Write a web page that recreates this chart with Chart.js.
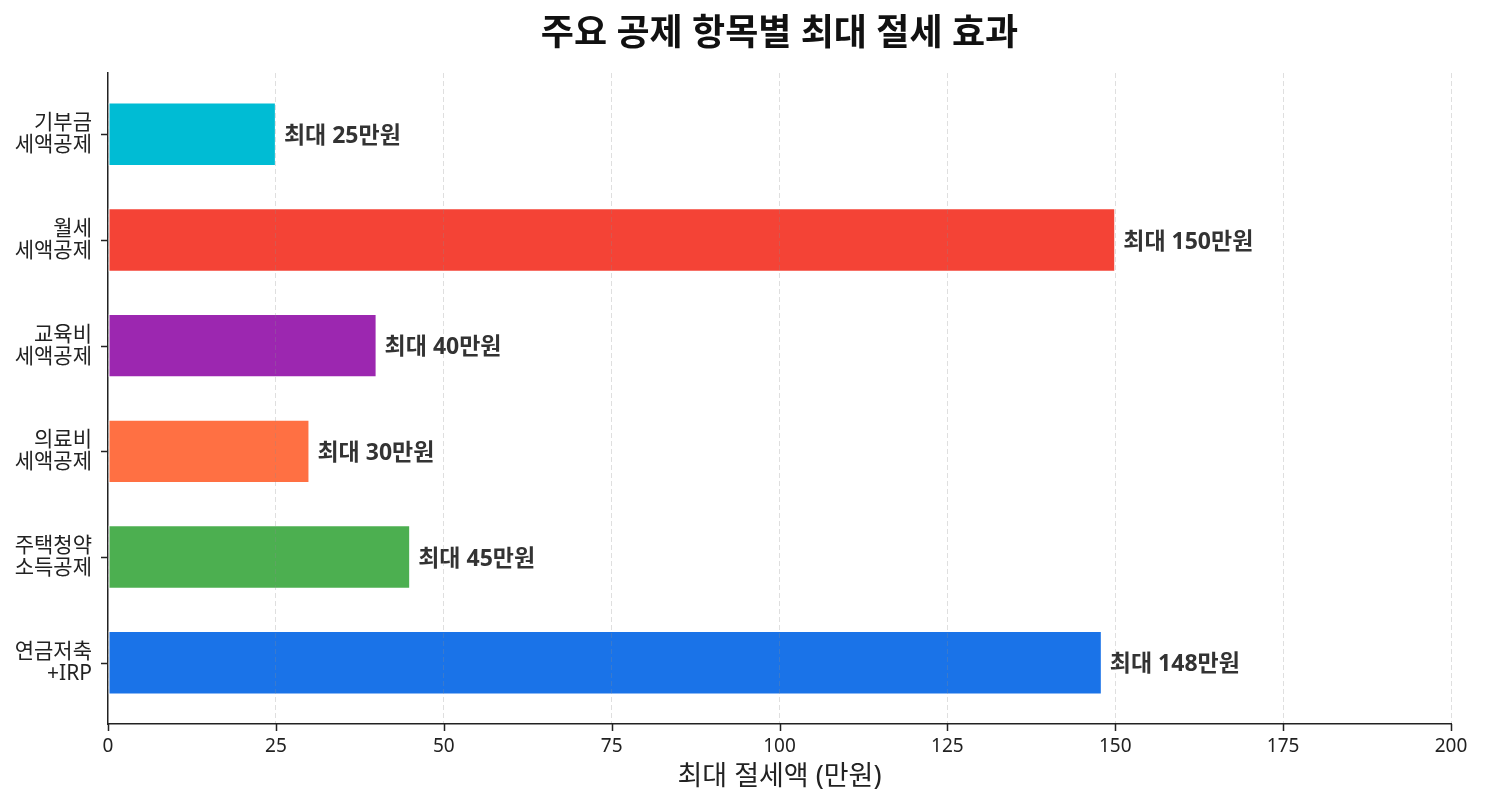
<!DOCTYPE html>
<html>
<head>
<meta charset="utf-8">
<script src="https://cdn.jsdelivr.net/npm/chart.js@4.4.1/dist/chart.umd.min.js"></script>
<style>
  html, body { margin: 0; padding: 0; background: #fff; }
  #wrap { width: 1485px; height: 808px; }
</style>
</head>
<body>
<div id="wrap"><canvas id="myCanvas"></canvas></div>
<script>
// data, listed top to bottom as in the picture
const categories = [
    ['기부금', '세액공제'],
    ['월세', '세액공제'],
    ['교육비', '세액공제'],
    ['의료비', '세액공제'],
    ['주택청약', '소득공제'],
    ['연금저축', '+IRP']
];
const maxSaving = [25, 150, 40, 30, 45, 148];
const barColors = ['#00BCD4', '#F44336', '#9C27B0', '#FF7043', '#4CAF50', '#1A73E8'];
const xTicks = [0, 25, 50, 75, 100, 125, 150, 175, 200];

const FONT = "'Noto Sans', 'Noto Sans CJK KR', sans-serif";
const n = categories.length;
const TICK = 7;

// bottom bar gets y = 0, like matplotlib barh
let points = maxSaving.map((v, i) => ({ x: v, y: n - 1 - i }));

// title centred over the plot area, value labels at bar ends, outside tick marks
const extras = {
    id: 'extras',
    afterDatasetsDraw(chart) {
        let ctx = chart.ctx;
        let area = chart.chartArea;
        ctx.save();
        ctx.fillStyle = '#111';
        ctx.font = 'bold 36px ' + FONT;
        ctx.textAlign = 'center';
        ctx.textBaseline = 'middle';
        ctx.fillText('주요 공제 항목별 최대 절세 효과', (area.left + area.right) / 2, 35);

        ctx.fillStyle = '#333';
        ctx.font = 'bold 23px ' + FONT;
        ctx.textAlign = 'left';
        chart.getDatasetMeta(0).data.forEach((bar, i) => {
            ctx.fillText('최대 ' + maxSaving[i] + '만원', bar.x + 8, bar.y + 2);
        });
        ctx.restore();
    },
    afterDraw(chart) {
        let ctx = chart.ctx;
        let area = chart.chartArea;
        let xs = chart.scales.x, ys = chart.scales.y;
        ctx.save();
        ctx.strokeStyle = '#222';
        ctx.lineWidth = 1.5;
        ctx.beginPath();
        xs.ticks.forEach(t => {
            let px = Math.round(xs.getPixelForValue(t.value)) + 0.5;
            ctx.moveTo(px, area.bottom);
            ctx.lineTo(px, area.bottom + TICK);
        });
        ys.ticks.forEach(t => {
            let py = Math.round(ys.getPixelForValue(t.value)) + 0.5;
            ctx.moveTo(area.left, py);
            ctx.lineTo(area.left - TICK, py);
        });
        ctx.stroke();
        ctx.restore();
    }
};

var chrt = document.getElementById('myCanvas');
var myBarChart = new Chart(chrt, {
    type: 'bar',
    data: {
        datasets: [{
            data: points,
            backgroundColor: barColors,
            borderColor: '#ffffff',
            borderWidth: 1,
            borderSkipped: false,
            barPercentage: 0.6,
            categoryPercentage: 1.0
        }]
    },
    options: {
        indexAxis: 'y',
        responsive: true,
        maintainAspectRatio: false,
        animation: false,
        layout: { padding: { top: 73, right: 34, left: 0, bottom: 0 } },
        plugins: {
            legend: { display: false },
            tooltip: { enabled: false }
        },
        scales: {
            x: {
                type: 'linear',
                min: 0,
                max: 200,
                afterBuildTicks: (s) => { s.ticks = xTicks.map(v => ({ value: v })); },
                afterFit: (s) => { s.height = 84; },
                grid: {
                    color: 'rgba(140,140,140,0.28)',
                    lineWidth: 1,
                    z: 1,
                    drawTicks: false
                },
                border: { display: true, color: '#222', width: 1.5, dash: [5, 3], z: 2 },
                ticks: { color: '#222', font: { family: FONT, size: 19 }, padding: 11 },
                title: {
                    display: true,
                    text: '최대 절세액 (만원)',
                    color: '#222',
                    font: { family: FONT, size: 27 },
                    padding: { top: 2, bottom: 14 }
                }
            },
            y: {
                type: 'linear',
                offset: false,
                min: -0.58,
                max: n - 1 + 0.58,
                afterBuildTicks: (s) => { s.ticks = categories.map((c, i) => ({ value: i })); },
                afterFit: (s) => { s.width = 108; },
                grid: { display: false, drawTicks: false },
                border: { display: true, color: '#222', width: 1.5 },
                ticks: {
                    color: '#222',
                    font: { family: FONT, size: 21, lineHeight: 1.05 },
                    padding: 16,
                    callback: (v) => categories[n - 1 - v]
                }
            }
        }
    },
    plugins: [extras]
});
</script>
</body>
</html>
